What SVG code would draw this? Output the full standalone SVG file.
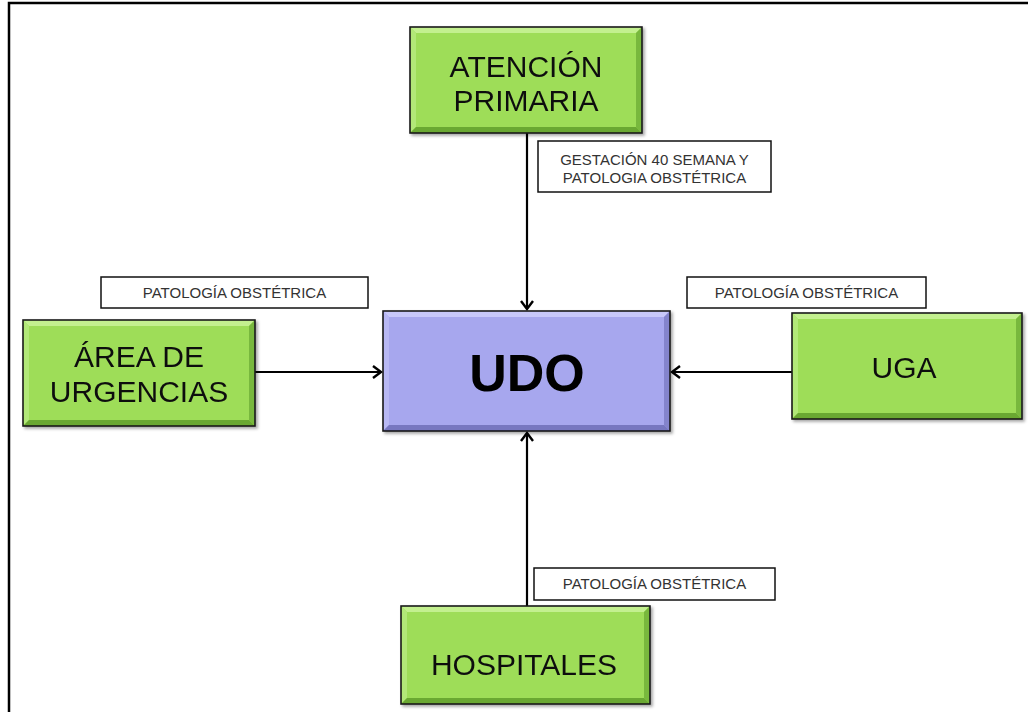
<svg xmlns="http://www.w3.org/2000/svg" width="1028" height="712" viewBox="0 0 1028 712">
  <style>
    .frame { stroke: #000; stroke-width: 2.5; fill: none; }
    .edge { stroke: #000; stroke-width: 2.2; fill: none; }
    .box { stroke: #1a1a1a; stroke-width: 1.6; }
    .g-face { fill: #9edd58; }
    .g-top { fill: #c3f08f; }
    .g-left { fill: #b2e878; }
    .g-right { fill: #78b83c; }
    .g-bot { fill: #6aa833; }
    .p-face { fill: #a7a7ee; }
    .p-top { fill: #c8c8fa; }
    .p-left { fill: #b8b8f4; }
    .p-right { fill: #8484cc; }
    .p-bot { fill: #7777c0; }
    .big { font-family: "Liberation Sans", Arial, sans-serif; font-size: 30px; fill: #111; text-anchor: middle; }
    .udo { font-family: "Liberation Sans", Arial, sans-serif; font-size: 52px; font-weight: bold; fill: #000; text-anchor: middle; }
    .tag { fill: #fff; stroke: #111; stroke-width: 1.5; }
    .small { font-family: "Liberation Sans", Arial, sans-serif; font-size: 15px; fill: #333; text-anchor: middle; }
  </style>
  <defs>
    <marker id="chev" viewBox="-10 -8 12 16" markerWidth="12" markerHeight="16" refX="0" refY="0" orient="auto" markerUnits="userSpaceOnUse">
      <path d="M-8,-6 L0,0 L-8,6" fill="none" stroke="#000" stroke-width="2.4"/>
    </marker>
    <filter id="shadow" x="-10%" y="-10%" width="125%" height="130%">
      <feDropShadow dx="2" dy="2" stdDeviation="1.5" flood-color="#000" flood-opacity="0.35"/>
    </filter>
  </defs>

  <rect width="1028" height="712" fill="#fff"/>
  <path class="frame" d="M9,712 V3 H1028"/>

  <g id="connectors">
    <line class="edge" x1="527" y1="133" x2="527" y2="309" marker-end="url(#chev)"/>
    <line class="edge" x1="255" y1="372" x2="381" y2="372" marker-end="url(#chev)"/>
    <line class="edge" x1="792" y1="372" x2="672" y2="372" marker-end="url(#chev)"/>
    <line class="edge" x1="527" y1="606" x2="527" y2="433" marker-end="url(#chev)"/>
  </g>

  <g id="atencion-primaria" filter="url(#shadow)">
    <rect class="g-face" x="410" y="27" width="232" height="106"/>
    <path class="g-top" d="M410,27 h232 l-6,6 h-220 z"/>
    <path class="g-left" d="M410,27 l6,6 v94 l-6,6 z"/>
    <path class="g-right" d="M642,27 v106 l-6,-6 v-94 z"/>
    <path class="g-bot" d="M410,133 h232 l-6,-6 h-220 z"/>
    <rect class="box" fill="none" x="410" y="27" width="232" height="106"/>
    <text class="big" x="526" y="77">ATENCIÓN</text>
    <text class="big" x="526" y="111">PRIMARIA</text>
  </g>

  <g id="area-urgencias" filter="url(#shadow)">
    <rect class="g-face" x="23" y="320" width="232" height="106"/>
    <path class="g-top" d="M23,320 h232 l-6,6 h-220 z"/>
    <path class="g-left" d="M23,320 l6,6 v94 l-6,6 z"/>
    <path class="g-right" d="M255,320 v106 l-6,-6 v-94 z"/>
    <path class="g-bot" d="M23,426 h232 l-6,-6 h-220 z"/>
    <rect class="box" fill="none" x="23" y="320" width="232" height="106"/>
    <text class="big" x="139" y="367">ÁREA DE</text>
    <text class="big" x="139" y="402">URGENCIAS</text>
  </g>

  <g id="uga" filter="url(#shadow)">
    <rect class="g-face" x="792" y="313" width="230" height="106"/>
    <path class="g-top" d="M792,313 h230 l-6,6 h-218 z"/>
    <path class="g-left" d="M792,313 l6,6 v94 l-6,6 z"/>
    <path class="g-right" d="M1022,313 v106 l-6,-6 v-94 z"/>
    <path class="g-bot" d="M792,419 h230 l-6,-6 h-218 z"/>
    <rect class="box" fill="none" x="792" y="313" width="230" height="106"/>
    <text class="big" x="904" y="378">UGA</text>
  </g>

  <g id="udo" filter="url(#shadow)">
    <rect class="p-face" x="383" y="311" width="287" height="120"/>
    <path class="p-top" d="M383,311 h287 l-6,6 h-275 z"/>
    <path class="p-left" d="M383,311 l6,6 v108 l-6,6 z"/>
    <path class="p-right" d="M670,311 v120 l-6,-6 v-108 z"/>
    <path class="p-bot" d="M383,431 h287 l-6,-6 h-275 z"/>
    <rect class="box" fill="none" x="383" y="311" width="287" height="120"/>
    <text class="udo" x="527" y="391">UDO</text>
  </g>

  <g id="hospitales" filter="url(#shadow)">
    <rect class="g-face" x="401" y="606" width="249" height="98"/>
    <path class="g-top" d="M401,606 h249 l-6,6 h-237 z"/>
    <path class="g-left" d="M401,606 l6,6 v86 l-6,6 z"/>
    <path class="g-right" d="M650,606 v98 l-6,-6 v-86 z"/>
    <path class="g-bot" d="M401,704 h249 l-6,-6 h-237 z"/>
    <rect class="box" fill="none" x="401" y="606" width="249" height="98"/>
    <text class="big" x="524" y="675">HOSPITALES</text>
  </g>

  <g id="label-gestacion">
    <rect class="tag" x="538" y="141" width="233" height="51"/>
    <text class="small" x="654.5" y="165">GESTACIÓN 40 SEMANA Y</text>
    <text class="small" x="654.5" y="183">PATOLOGIA OBSTÉTRICA</text>
  </g>

  <g id="label-urgencias">
    <rect class="tag" x="101" y="277" width="267" height="31"/>
    <text class="small" x="234.5" y="298">PATOLOGÍA OBSTÉTRICA</text>
  </g>

  <g id="label-uga">
    <rect class="tag" x="687" y="277" width="239" height="31"/>
    <text class="small" x="806.5" y="298">PATOLOGÍA OBSTÉTRICA</text>
  </g>

  <g id="label-hospitales">
    <rect class="tag" x="534" y="568" width="241" height="32"/>
    <text class="small" x="654.5" y="589">PATOLOGÍA OBSTÉTRICA</text>
  </g>
</svg>
